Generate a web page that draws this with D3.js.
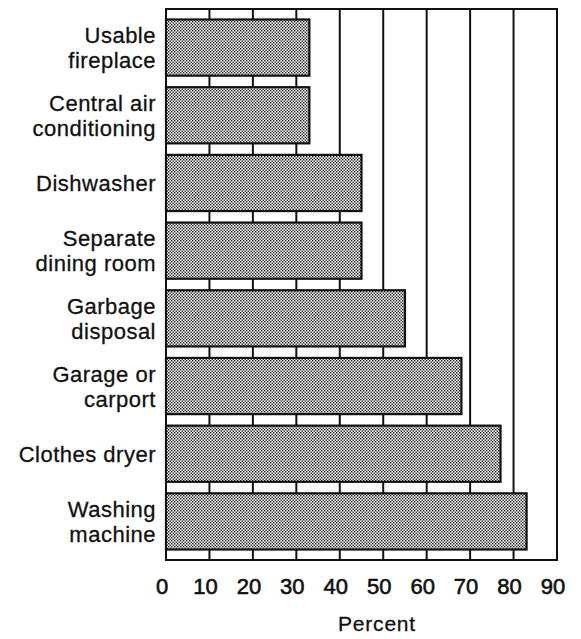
<!DOCTYPE html>
<html>
<head>
<meta charset="utf-8">
<script src="https://cdn.jsdelivr.net/npm/d3@7"></script>
<style>
  body { margin: 0; background: #fff; }
  text { font-family: "Liberation Sans", Arial, Helvetica, sans-serif; fill: #111; }
</style>
</head>
<body>
<div id="chart"></div>
<script>
// categories, top to bottom
var categories = [
    ["Usable", "fireplace"],
    ["Central air", "conditioning"],
    ["Dishwasher"],
    ["Separate", "dining room"],
    ["Garbage", "disposal"],
    ["Garage or", "carport"],
    ["Clothes dryer"],
    ["Washing", "machine"]
]
var percents = [33, 33, 45, 45, 55, 68, 77, 83]
var tickValues = [0, 10, 20, 30, 40, 50, 60, 70, 80, 90]

var width = 581, height = 639
var frame = { left: 166, right: 557, top: 9, bottom: 560 }

var svg = d3.select("#chart").append("svg")
    .attr("width", width)
    .attr("height", height)

// halftone-ish fill for the bars
var pat = svg.append("defs").append("pattern")
    .attr("id", "dots")
    .attr("patternUnits", "userSpaceOnUse")
    .attr("width", 3)
    .attr("height", 3)
pat.append("rect").attr("width", 3).attr("height", 3).attr("fill", "#fff")
pat.append("rect").attr("x", 0).attr("y", 0).attr("width", 1.4).attr("height", 1.4).attr("fill", "#1a1a1a")
pat.append("rect").attr("x", 1.5).attr("y", 1.5).attr("width", 1.4).attr("height", 1.4).attr("fill", "#1a1a1a")

var x = d3.scaleLinear()
    .domain([0, 90])
    .range([frame.left, frame.right])

var y = d3.scaleBand()
    .domain(d3.range(categories.length))
    .range([frame.top, frame.bottom])
    .paddingInner(0.17)
    .paddingOuter(0.155)

// grid lines behind everything
svg.append("g").selectAll("line")
    .data(tickValues)
    .enter().append("line")
    .attr("x1", function(d) { return x(d) })
    .attr("x2", function(d) { return x(d) })
    .attr("y1", frame.top)
    .attr("y2", frame.bottom)
    .attr("stroke", "#111")
    .attr("stroke-width", 2)

// top and bottom frame edges
svg.append("line")
    .attr("x1", frame.left - 1).attr("x2", frame.right + 1)
    .attr("y1", frame.top).attr("y2", frame.top)
    .attr("stroke", "#111").attr("stroke-width", 2)
svg.append("line")
    .attr("x1", frame.left - 1).attr("x2", frame.right + 1)
    .attr("y1", frame.bottom).attr("y2", frame.bottom)
    .attr("stroke", "#111").attr("stroke-width", 2)

// bars
svg.append("g").selectAll("rect")
    .data(percents)
    .enter().append("rect")
    .attr("x", x(0))
    .attr("y", function(d, i) { return y(i) })
    .attr("width", function(d) { return x(d) - x(0) })
    .attr("height", y.bandwidth())
    .attr("fill", "url(#dots)")
    .attr("stroke", "#111")
    .attr("stroke-width", 2.2)

// category labels, right aligned
var lineH = 25
var labels = svg.append("g").selectAll("text")
    .data(categories)
    .enter().append("text")
    .attr("text-anchor", "end")
    .style("font-size", "22px")
    .style("letter-spacing", "0.5px")
    .style("stroke", "#111")
    .style("stroke-width", 0.3)
    .attr("transform", function(d, i) {
        var cy = y(i) + y.bandwidth() / 2
        return "translate(156," + cy + ")"
    })

labels.selectAll("tspan")
    .data(function(d) { return d })
    .enter().append("tspan")
    .attr("x", 0)
    .attr("y", function(d, j, nodes) {
        var n = nodes.length
        return (j - (n - 1) / 2) * lineH + 8
    })
    .text(function(d) { return d })

// tick labels
svg.append("g").selectAll("text")
    .data(tickValues)
    .enter().append("text")
    .attr("x", function(d) { return x(d) - 4 })
    .attr("y", 594)
    .attr("text-anchor", "middle")
    .style("font-size", "22px")
    .style("stroke", "#111")
    .style("stroke-width", 0.6)
    .text(function(d) { return d })

// axis title
svg.append("text")
    .attr("x", 377)
    .attr("y", 631)
    .attr("text-anchor", "middle")
    .style("font-size", "21px")
    .style("letter-spacing", "0.8px")
    .style("stroke", "#111")
    .style("stroke-width", 0.3)
    .text("Percent")
</script>
</body>
</html>
